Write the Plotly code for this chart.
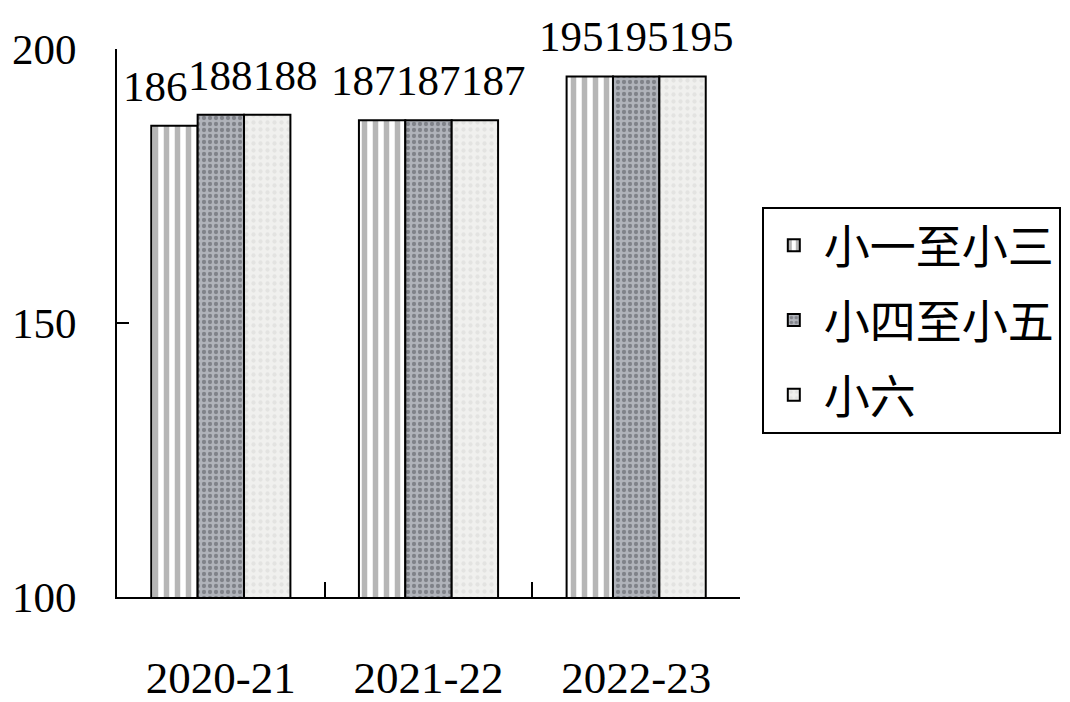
import plotly.graph_objects as go

years = ["2020-21", "2021-22", "2022-23"]
series_names = ["小一至小三", "小四至小五", "小六"]
p1_3 = [186, 187, 195]
p4_5 = [188, 187, 195]
p6 = [188, 187, 195]
y_ticks = [100, 150, 200]

serif = "Liberation Serif, Times New Roman, serif"
cjk = "Noto Sans CJK TC, Noto Sans CJK SC, sans-serif"

styles = [
    dict(bg="#ffffff", fg="#6e6e6e", shape="|", size=11, solidity=0.5),
    dict(bg="#b0b3ba", fg="#4f5158", shape=".", size=6, solidity=0.4),
    dict(bg="#f0f0ee", fg="#d6d6d4", shape=".", size=7, solidity=0.3),
]
label_shift = [-65, 0, 65]

fig = go.Figure()
all_vals = [p1_3, p4_5, p6]
for i, (name, vals) in enumerate(zip(series_names, all_vals)):
    s = styles[i]
    fig.add_trace(go.Bar(
        x=years, y=vals, name=name,
        legendgroup=f"g{i}",
        marker=dict(color=s["bg"], line=dict(color="black", width=2),
                    pattern=dict(shape=s["shape"], fgcolor=s["fg"], bgcolor=s["bg"],
                                 size=s["size"], solidity=s["solidity"], fillmode="overlay")),
    ))
    for yr, v in zip(years, vals):
        fig.add_annotation(x=yr, y=v, text=str(v), showarrow=False,
                           xanchor="center", yanchor="bottom",
                           xshift=label_shift[i], yshift=14,
                           font=dict(family=serif, size=43, color="black"))

fig.update_layout(
    width=1070, height=702,
    margin=dict(l=109, r=338, t=41, b=113),
    paper_bgcolor="white", plot_bgcolor="white",
    barmode="group", bargap=0.33, bargroupgap=0,
    font=dict(family=serif, size=30, color="black"),
    legend=dict(x=1.035, y=0.712, xanchor="left", yanchor="top",
                bordercolor="black", borderwidth=2, bgcolor="white",
                font=dict(family=cjk, size=46), tracegroupgap=12,
                itemwidth=50),
    showlegend=True,
)
fig.update_yaxes(range=[100, 200], tickvals=y_ticks, showline=True, linecolor="black",
                 linewidth=2, ticks="inside", ticklen=12, tickcolor="black", tickwidth=1.5,
                 showgrid=False, zeroline=False, ticklabelstandoff=30, automargin=False,
                 tickfont=dict(family=serif, size=43))
fig.update_xaxes(showline=True, linecolor="black", linewidth=2, ticks="inside",
                 tickson="boundaries", ticklen=15, tickcolor="black", tickwidth=1.5,
                 showgrid=False, ticklabelstandoff=40, automargin=False,
                 tickfont=dict(family=serif, size=45))

fig.write_html("out.html")
